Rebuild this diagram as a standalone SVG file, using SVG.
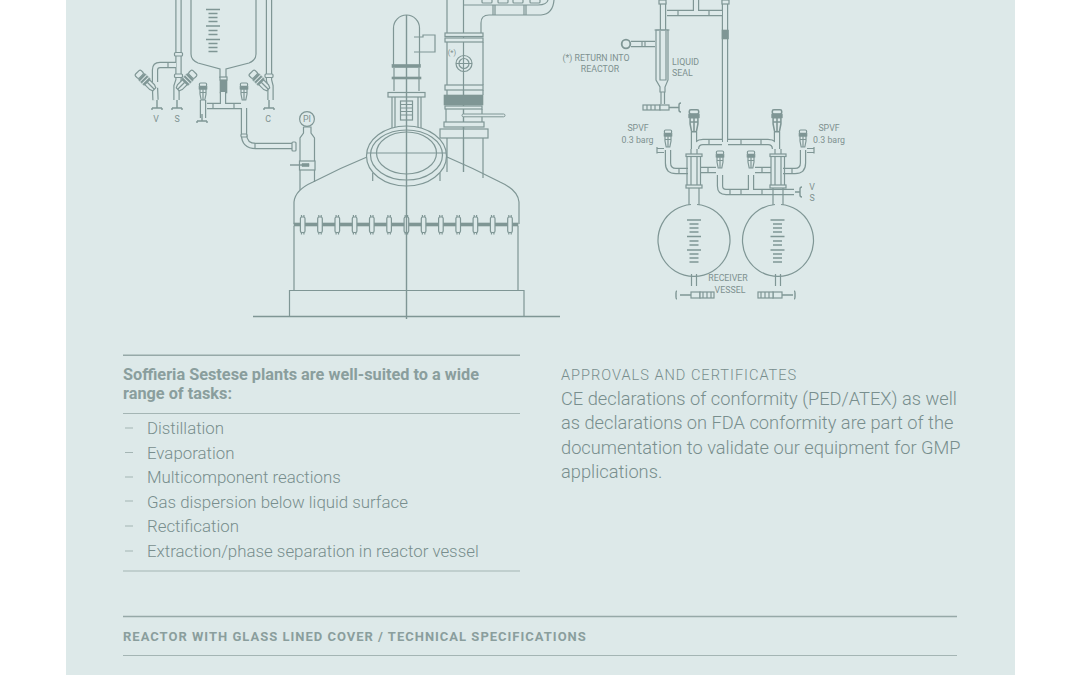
<svg xmlns="http://www.w3.org/2000/svg" width="1080" height="675" viewBox="0 0 1080 675">
<style>
.l{fill:none;stroke:#7f9695;stroke-width:1.2}
.f{fill:#dde9e9;stroke:#7f9695;stroke-width:1.2}
.d{fill:#7f9695;stroke:#7f9695;stroke-width:.6}
.t{fill:none;stroke:#7f9695;stroke-width:1.4}
.po{fill:none;stroke:#7f9695;stroke-width:6.4}
.pi{fill:none;stroke:#dde9e9;stroke-width:4}
.rule{stroke:#96a9a8;stroke-width:1.5}
.rule2{stroke:#a4b5b4;stroke-width:1.1}
.lab{font-family:"Roboto","Liberation Sans",sans-serif;font-size:8.8px;fill:#7d9190}
.body{font-family:"Roboto","Liberation Sans",sans-serif;font-weight:300;fill:#788e8d}
.li{font-size:16.85px}
.para{font-size:18.25px}
.b{font-family:"Roboto","Liberation Sans",sans-serif;font-weight:700;fill:#8a9e9d}
.tick{stroke:#7f9695;stroke-width:1.4}
</style>
<defs>
<g id="valve">
<rect class="f" x="-3.6" y="-11" width="7.2" height="3.4" rx="1.200"/>
<rect class="d" x="-4" y="-7.600" width="8" height="2.800"/>
<path class="f" d="M-3-4.800V0L-1.800 6H1.800L3 0V-4.800Z"/>
<path class="l" d="M0-4.800V6M-3-1.500H3"/>
</g>
<g id="dvalve">
<rect class="f" x="-4" y="-25" width="8" height="5.500" rx="1.600"/>
<rect class="d" x="-4.500" y="-19" width="9" height="8"/>
<path stroke="#dde9e9" stroke-width="1" d="M-4.500-16.500H4.500M-4.500-13.500H4.500"/>
<path class="f" d="M-3.400-11V-4L-2-1H2L3.400-4V-11Z"/>
<path class="l" d="M0-11V-1"/>
</g>
<g id="bolt">
<rect class="f" x="-2.300" y="-6" width="4.600" height="15.500" rx="1.600"/>
<path class="l" d="M-1.200-8V-6M1.200-8V-6M-1.200 9.500V11.500M1.200 9.500V11.500"/>
</g>
<path id="scale" class="tick" d="M-7 0H7M-4.500 4H4.500M-4.500 8H4.500M-4.500 12H4.500M-7 16.500H7M-4.500 21H4.500M-4.500 25H4.500M-7 30H7M-4.500 34H4.500M-4.500 38H4.500M-4.500 42H4.500"/>
<path id="pipeA" d="M178.500 0V80L176.500 86V100M269 0V80L270.500 86V100M155 82V70Q155 65 160 65H176M155 88L155.500 100M241 106H207M223 92V106M244 108V134Q244 146 256 146H296M203 100V118"/>
<path id="pipeB" d="M725 0V126M667 13H722M696 0V13M725 126V142M703 142H722M728 142H768Q775 142 775 149M703 142Q696 142 696 149M668 150V163Q668 171 676 171H688M803 150V163Q803 171 795 171H783M700 170H716M755 170H771M720 175V186Q720 192 726 192H794M751 175V190M694 132V149M777 132V149M631 44H655M663 2V30"/>
</defs>
<rect width="1080" height="675" fill="#fff"/>
<rect x="66" width="949" height="675" fill="#dde9e9"/>

<g id="left-feed-vessel">
<path class="l" d="M191 0V54Q191 60 198 63L220 69V78M256 0V54Q256 60 249 63L226 69V78"/>
<use href="#scale" x="213" y="9.500"/>
<rect class="d" x="220" y="80" width="7" height="13"/>
<rect class="f" x="220" y="77" width="7" height="3"/>
</g>
<g id="left-pipework">
<use href="#pipeA" class="po"/><use href="#pipeA" class="pi"/>
<path class="l" d="M213 103V109M234 103V109M168 62V68M255 143V149"/>
<rect class="f" x="174.500" y="52.500" width="8" height="3.500" rx="1"/>
<rect class="f" x="174.500" y="74" width="8" height="3.500" rx="1"/>
<rect class="f" x="265" y="74" width="8" height="3.500" rx="1"/>
<rect class="f" x="292" y="142" width="4" height="9" rx="1"/>
<rect class="f" x="241" y="134" width="6" height="3" rx="1"/>
<use href="#valve" x="203" y="94"/><use href="#valve" x="244" y="94"/>
<use href="#dvalve" transform="translate(155 90) rotate(-45)"/>
<use href="#dvalve" transform="translate(177 90) rotate(45)"/>
<use href="#dvalve" transform="translate(269 90) rotate(-45)"/>
<path class="t" d="M152 108H162M152 108V110M162 108V110M157 100V108M172 108H182M172 108V110M182 108V110M177 100V108M197 121H207M197 121V123M207 121V123M202 114V121M264 108H274M264 108V110M274 108V110M269 100V108"/>
<text class="lab" x="156" y="122" text-anchor="middle">V</text>
<text class="lab" x="177" y="122" text-anchor="middle">S</text>
<text class="lab" x="268" y="122" text-anchor="middle">C</text>
</g>
<g id="pressure-indicator">
<circle class="f" cx="307" cy="119" r="7.400"/>
<text class="lab" x="307" y="122.200" text-anchor="middle">PI</text>
<path class="l" d="M303.500 127H311V133L314.500 138V182M303.500 127V133L300 138V190"/>
<rect class="f" x="299.500" y="161" width="15.500" height="9"/>
<path class="t" d="M290 165H309"/>
<path class="d" d="M302 163.500H309V166.500H302Z"/>
</g>
<g id="reactor">
<path class="l" d="M294 224V202Q295 190 313 182Q340 168 367 157M519 224V202Q518 190 500 182Q473 168 447 157"/>
<path class="l" d="M294 226V290M518 226V290M289.500 316.500V290.500H524V316.500"/>
<path class="t" d="M253 316.500H560"/>
<rect class="d" x="294" y="223" width="224" height="3"/>
<use href="#bolt" x="302.700" y="223"/><use href="#bolt" x="320" y="223"/><use href="#bolt" x="337.300" y="223"/><use href="#bolt" x="354.600" y="223"/><use href="#bolt" x="371.800" y="223"/><use href="#bolt" x="389.100" y="223"/><use href="#bolt" x="406.400" y="223"/><use href="#bolt" x="423.600" y="223"/><use href="#bolt" x="440.900" y="223"/><use href="#bolt" x="458.200" y="223"/><use href="#bolt" x="475.400" y="223"/><use href="#bolt" x="492.700" y="223"/><use href="#bolt" x="510" y="223"/>
<ellipse class="f" cx="406.500" cy="156" rx="40" ry="30"/>
<ellipse class="l" cx="406.500" cy="155" rx="36" ry="25"/>
<ellipse class="l" cx="406.500" cy="153" rx="30" ry="21"/>
<path class="l" d="M367 153H446M372.700 173V181M440 173V181"/>
</g>
<g id="agitator">
<path class="l" d="M393.500 65V28A13 13 0 0 1 419.500 28V65M414 37H423V35H435V52H423M414 52H423"/>
<rect class="d" x="392" y="64.500" width="28.500" height="3"/>
<path class="l" d="M394 68V91M419 68V91"/>
<rect class="d" x="392" y="77" width="29" height="2"/>
<rect class="f" x="388" y="92.500" width="37" height="4.500"/>
<path class="l" d="M392 97V128M395 97V127M418 97V127M421 97V128"/>
<rect class="f" x="400.500" y="101" width="12" height="19"/>
<path class="l" d="M400.500 104.500H412.500M400.500 108H412.500M400.500 111.500H412.500M400.500 115H412.500"/>
</g>
<g id="column">
<path class="l" d="M447 0V33M481 33V23Q481 15 489 15H541Q553 14 554 0M463.500 5H538Q547 5 548 0M463.500 0V172"/>
<rect class="f" x="482" y="-4" width="10" height="7" rx="1"/>
<rect class="f" x="498" y="-4" width="10" height="7" rx="1"/>
<rect class="f" x="513" y="-4" width="10" height="7" rx="1"/>
<rect class="f" x="530" y="-4" width="10" height="7" rx="1"/>
<path class="l" d="M493 5V15M495 5V15M524 5V15M526 5V15"/>
<rect class="f" x="445" y="33" width="38" height="3.500"/>
<rect class="f" x="445" y="38" width="38" height="4"/>
<path class="l" d="M447 42V85M483 42V85"/>
<circle class="f" cx="464" cy="63.500" r="8"/><circle class="l" cx="464" cy="63.500" r="5"/>
<path class="l" d="M456 63.500H472M463.500 55V72"/>
<text class="lab" x="452" y="54.500" text-anchor="middle" style="font-size:7.500px">(*)</text>
<rect class="f" x="445" y="85" width="38" height="5"/>
<path class="l" d="M447 90V95M483 90V95M463.500 85V138"/>
<rect class="d" x="444" y="95" width="39" height="10"/>
<rect class="f" x="445" y="106" width="37" height="3"/>
<path class="l" d="M446 109V122M482 109V122"/>
<rect class="f" x="444" y="122" width="40" height="5"/>
<rect class="f" x="440" y="129" width="48" height="9"/>
<path class="l" d="M447 138V172M483 138V178M463.500 127V172"/>
<rect x="462" y="114" width="43" height="2.800" rx="1.400" fill="#dde9e9" stroke="#7f9695"/>
</g>
<g id="center-line"><path class="t" d="M406.500 15V319"/></g>

<g id="liquid-seal">
<use href="#pipeB" class="po"/><use href="#pipeB" class="pi"/>
<path class="f" d="M656 30H668V80L665 87V92H660V87L656 80Z"/>
<path class="l" d="M654.500 30H669.500M660 31V80H666V31"/>
<path class="l" d="M661 92V104M664.500 92V104"/>
<circle cx="626" cy="44" r="4.300" fill="none" stroke="#7f9695" stroke-width="1.800"/>
<path class="l" d="M642 41V47M645 41V47M678 10V16M709 10V16"/>
<rect class="d" x="722" y="30" width="6.500" height="9"/>
<rect class="f" x="643" y="105" width="17" height="5"/>
<path class="l" d="M647 105V110M651 105V110M655 105V110"/>
<rect class="f" x="660" y="105" width="9" height="5"/>
<path class="t" d="M669 107.500H679M681 103Q679 103 679 105V110Q679 112 681 112"/>
<rect class="f" x="659" y="0" width="7" height="4"/>
<rect class="f" x="722" y="0" width="7" height="4"/>
<text class="lab" x="596" y="61" text-anchor="middle">(*) RETURN INTO</text>
<text class="lab" x="600" y="72" text-anchor="middle">REACTOR</text>
<text class="lab" x="672" y="65">LIQUID</text>
<text class="lab" x="672" y="76">SEAL</text>
</g>
<g id="receiver-manifold">
<path class="l" d="M687 155V185M700.500 155V185M771 155V185M784.500 155V185M689 188V205M699 188V205M773 188V205M783 188V205M691 149V186M697 149V186M775 149V186M781 149V186"/>
<rect class="f" x="686" y="154" width="16" height="2.500"/><rect class="f" x="770" y="154" width="16" height="2.500"/>
<rect class="f" x="686" y="185" width="16" height="3"/><rect class="f" x="770" y="185" width="16" height="3"/>
<use href="#valve" transform="translate(694 124) scale(1.300)"/><use href="#valve" transform="translate(777 124) scale(1.300)"/>
<use href="#valve" x="668" y="141"/><use href="#valve" x="803" y="141"/>
<use href="#valve" x="720" y="162"/><use href="#valve" x="751" y="162"/>
<path class="l" d="M657 147V153.500M657 148.500H664M657 152.500H664M814 147V153.500M807 148.500H814M807 152.500H814"/>
<path class="l" d="M709 139V145M741 139V145M761 139V145M679 168V174M792 168V174M708 167V173M762 167V173M730 189V195M741 189V195M762 189V195"/>
<path class="t" d="M802 187Q800 187 800 189V195Q800 197 802 197M795 192H800"/>
<text class="lab" x="638" y="131" text-anchor="middle">SPVF</text>
<text class="lab" x="637.500" y="143" text-anchor="middle">0.3 barg</text>
<text class="lab" x="829" y="131" text-anchor="middle">SPVF</text>
<text class="lab" x="829" y="143" text-anchor="middle">0.3 barg</text>
<text class="lab" x="812" y="190" text-anchor="middle">V</text>
<text class="lab" x="812" y="201" text-anchor="middle">S</text>
</g>
<g id="receiver-1">
<path class="l" d="M691 204.500A36 36 0 1 0 697 204.500"/>
<use href="#scale" x="694" y="220"/>
<path class="l" d="M691.500 274V286M696.500 274V286"/>
<path class="t" d="M680 295H691M677 291Q676 291 676 293V297Q676 299 677 299"/>
<rect class="f" x="691" y="292" width="9" height="6"/>
<rect class="f" x="700" y="292" width="14" height="6"/>
<path class="l" d="M703 292V298M707 292V298M711 292V298"/>
<text class="lab" x="728" y="281" text-anchor="middle">RECEIVER</text>
<text class="lab" x="730" y="293" text-anchor="middle">VESSEL</text>
</g>
<g id="receiver-2">
<path class="l" d="M775 204.500A35.500 36 0 1 0 781 204.500"/>
<use href="#scale" x="777.500" y="220"/>
<path class="l" d="M775.500 274V286M780.500 274V286"/>
<path class="t" d="M782 295H793M794 291Q795 291 795 293V297Q795 299 794 299"/>
<rect class="f" x="773" y="292" width="9" height="6"/>
<rect class="f" x="758" y="292" width="15" height="6"/>
<path class="l" d="M761 292V298M765 292V298M769 292V298"/>
</g>

<g id="tasks">
<path class="rule" d="M123 355.300H520"/>
<text class="b" x="123" y="379.500" font-size="16.300">Soffieria Sestese plants are well-suited to a wide</text>
<text class="b" x="123" y="398.500" font-size="16.300">range of tasks:</text>
<path class="rule2" d="M123 413.500H520M123 571H520"/>
<g class="body li">
<text x="147" y="434">Distillation</text>
<text x="147" y="458.500">Evaporation</text>
<text x="147" y="483">Multicomponent reactions</text>
<text x="147" y="507.500">Gas dispersion below liquid surface</text>
<text x="147" y="531.500">Rectification</text>
<text x="147" y="556.500">Extraction/phase separation in reactor vessel</text>
</g>
<path class="rule2" d="M125 428H133M125 452.500H133M125 477H133M125 501H133M125 526H133M125 551H133"/>
</g>
<g id="approvals" class="body">
<text x="561" y="380" font-size="14.600" letter-spacing=".98">APPROVALS AND CERTIFICATES</text>
<text class="para" x="561" y="404.500">CE declarations of conformity (PED/ATEX) as well</text>
<text class="para" x="561" y="429">as declarations on FDA conformity are part of the</text>
<text class="para" x="561" y="453.500">documentation to validate our equipment for GMP</text>
<text class="para" x="561" y="478">applications.</text>
</g>
<g id="spec-heading">
<path class="rule" d="M123 616.500H957"/>
<text class="b" x="123" y="641" font-size="13" letter-spacing="1">REACTOR WITH GLASS LINED COVER / TECHNICAL SPECIFICATIONS</text>
<path class="rule2" d="M123 655.500H957"/>
</g>
</svg>
